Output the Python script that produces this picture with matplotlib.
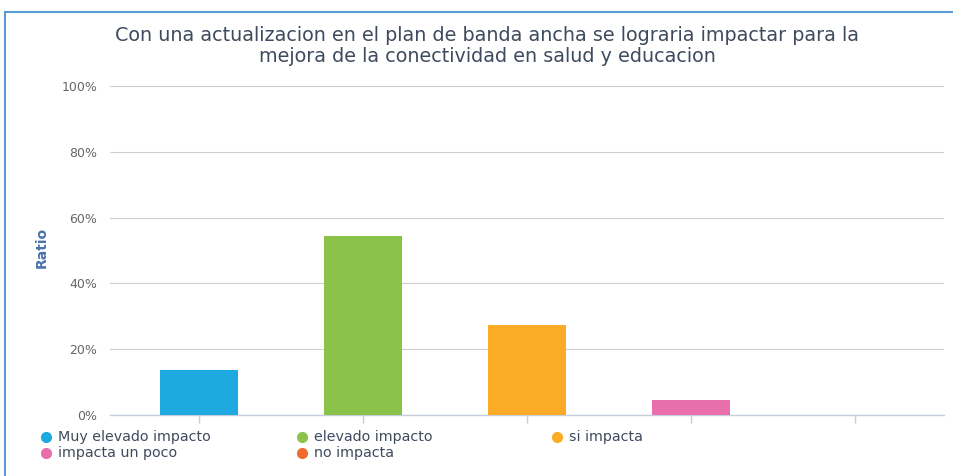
import matplotlib
matplotlib.use("Agg")
import matplotlib.pyplot as plt
from matplotlib.lines import Line2D
from matplotlib.ticker import FuncFormatter

categories = ["Muy elevado impacto", "elevado impacto", "si impacta", "impacta un poco", "no impacta"]
values = [13.6, 54.5, 27.3, 4.5, 0.0]
colors = ["#1fa9e1", "#8bc34a", "#fbab25", "#e86eac", "#f26a2c"]
yticks = [0, 20, 40, 60, 80, 100]
title = "Con una actualizacion en el plan de banda ancha se lograria impactar para la\nmejora de la conectividad en salud y educacion"

W, H = 954, 476
fig = plt.figure(figsize=(W / 100, H / 100), dpi=100)
fig.patch.set_facecolor("white")

# blue frame lines (top and left)
fig.add_artist(Line2D([5 / W, 1], [1 - 12 / H, 1 - 12 / H], transform=fig.transFigure, color="#5b9bd5", lw=1.5))
fig.add_artist(Line2D([5 / W, 5 / W], [0, 1 - 12 / H], transform=fig.transFigure, color="#5b9bd5", lw=1.5))

ax = fig.add_axes([110 / W, 1 - 415 / H, (944 - 110) / W, (415 - 86) / H])
x = list(range(len(categories)))
ax.bar(x, values, width=0.475, color=colors, zorder=3)
ax.set_xlim(-0.54, 4.54)
ax.set_ylim(0, 100)
ax.set_yticks(yticks)
ax.yaxis.set_major_formatter(FuncFormatter(lambda v, p: f"{int(v)}%"))
ax.grid(axis="y", color="#d0d0d0", lw=0.8, zorder=0)
for s in ["top", "right", "left"]:
    ax.spines[s].set_visible(False)
ax.spines["bottom"].set_color("#c5cfdc")
ax.spines["bottom"].set_linewidth(1)
ax.set_xticks(x)
ax.set_xticklabels([])
ax.tick_params(axis="x", length=6, color="#c5cfdc", width=1)
ax.tick_params(axis="y", length=0, pad=9, labelsize=9, labelcolor="#666666")
ax.set_ylabel("Ratio", color="#4a72a8", fontsize=10, fontweight="bold")
ax.yaxis.set_label_coords((49 - 110) / 834, 0.51)

fig.text(487 / W, 1 - 46 / H, title, ha="center", va="center", fontsize=13.8,
         color="#3e4b5e", linespacing=1.1)

# legend
leg_pos = [(46, 437), (302, 437), (557, 437), (46, 453), (302, 453)]
for (px, py), lab, c in zip(leg_pos, categories, colors):
    fig.add_artist(Line2D([px / W], [1 - py / H], transform=fig.transFigure, marker="o",
                          markersize=7, color=c, linestyle="none"))
    fig.text((px + 12) / W, 1 - py / H, lab, ha="left", va="center", fontsize=10.3, color="#3e4b5e")

fig.savefig("out.png", dpi=100)
